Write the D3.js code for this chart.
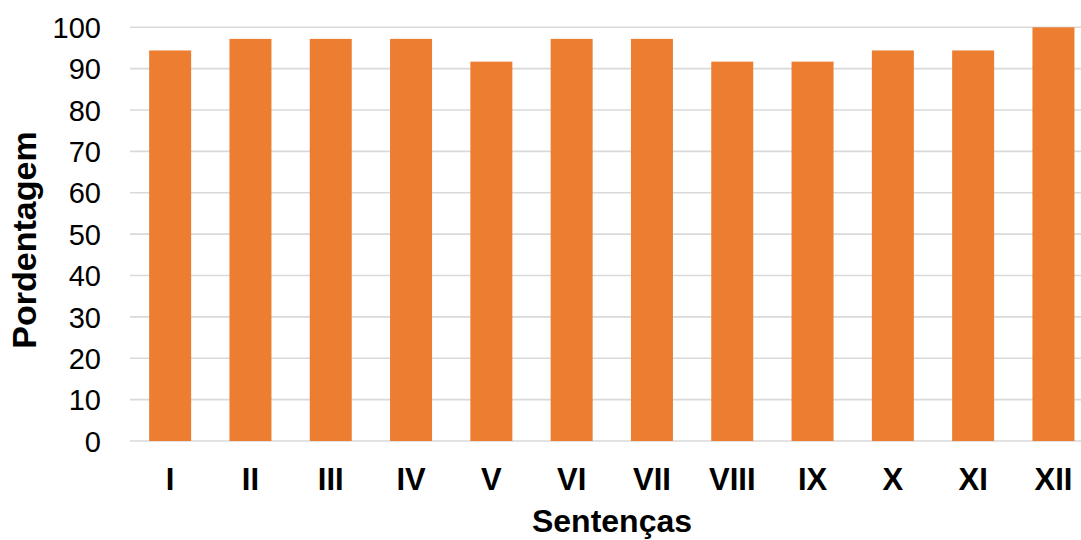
<!DOCTYPE html>
<html>
<head>
<meta charset="utf-8">
<script src="https://cdn.jsdelivr.net/npm/d3@7"></script>
<style>
  html, body { margin: 0; padding: 0; background: #fff; }
  svg { display: block; }
  text { font-family: "Liberation Sans", Arial, sans-serif; fill: #000; }
</style>
</head>
<body>
<svg id="chart" width="1081" height="540"></svg>
<script>
const categories = ["I", "II", "III", "IV", "V", "VI", "VII", "VIII", "IX", "X", "XI", "XII"];
const values = [94.4, 97.2, 97.2, 97.2, 91.7, 97.2, 97.2, 91.7, 91.7, 94.4, 94.4, 100];
const yTicks = [0, 10, 20, 30, 40, 50, 60, 70, 80, 90, 100];
const xTitle = "Sentenças";
const yTitle = "Pordentagem";

const svg = d3.select("#chart");
const W = 1081, H = 540;
const mLeft = 130, mRight = 130 + 12 * 80.3, mTop = 27.3, mBottom = 441;

const x = d3.scaleBand().domain(categories).range([mLeft, mRight])
  .paddingInner(0.477).paddingOuter(0.2385);
const y = d3.scaleLinear().domain([0, 100]).range([mBottom, mTop]);

// gridlines
svg.append("g").selectAll("line").data(yTicks).join("line")
  .attr("x1", mLeft).attr("x2", W)
  .attr("y1", d => y(d)).attr("y2", d => y(d))
  .attr("stroke", "#d9d9d9").attr("stroke-width", 1.6);

// bars
svg.append("g").selectAll("rect").data(values).join("rect")
  .attr("x", (d, i) => x(categories[i]))
  .attr("width", x.bandwidth())
  .attr("y", d => y(d))
  .attr("height", d => y(0) - y(d))
  .attr("fill", "#ED7D31");

// y axis labels
const yAxis = d3.axisLeft(y).tickValues(yTicks).tickSize(0).tickPadding(0).tickFormat(d3.format("d"));
const gy = svg.append("g").attr("transform", "translate(101,0)").call(yAxis);
gy.select(".domain").remove();
gy.selectAll("text").style("font-size", "29px").style("font-family", "Liberation Sans, Arial, sans-serif").attr("fill", "#000").attr("dy", "0.35em");

// x axis labels
const xAxis = d3.axisBottom(x).tickSize(0).tickPadding(0);
const gx = svg.append("g").call(xAxis);
gx.select(".domain").remove();
gx.selectAll("text").attr("y", 490).attr("dy", 0)
  .style("font-size", "31px").style("font-weight", "bold")
  .style("font-family", "Liberation Sans, Arial, sans-serif").attr("fill", "#000");

// titles
svg.append("text").attr("x", 612).attr("y", 532).attr("text-anchor", "middle")
  .style("font-size", "32px").style("font-weight", "bold").text(xTitle);
svg.append("text").attr("transform", "translate(36,240) rotate(-90)").attr("text-anchor", "middle")
  .style("font-size", "34px").style("font-weight", "bold").text(yTitle);
</script>
</body>
</html>
